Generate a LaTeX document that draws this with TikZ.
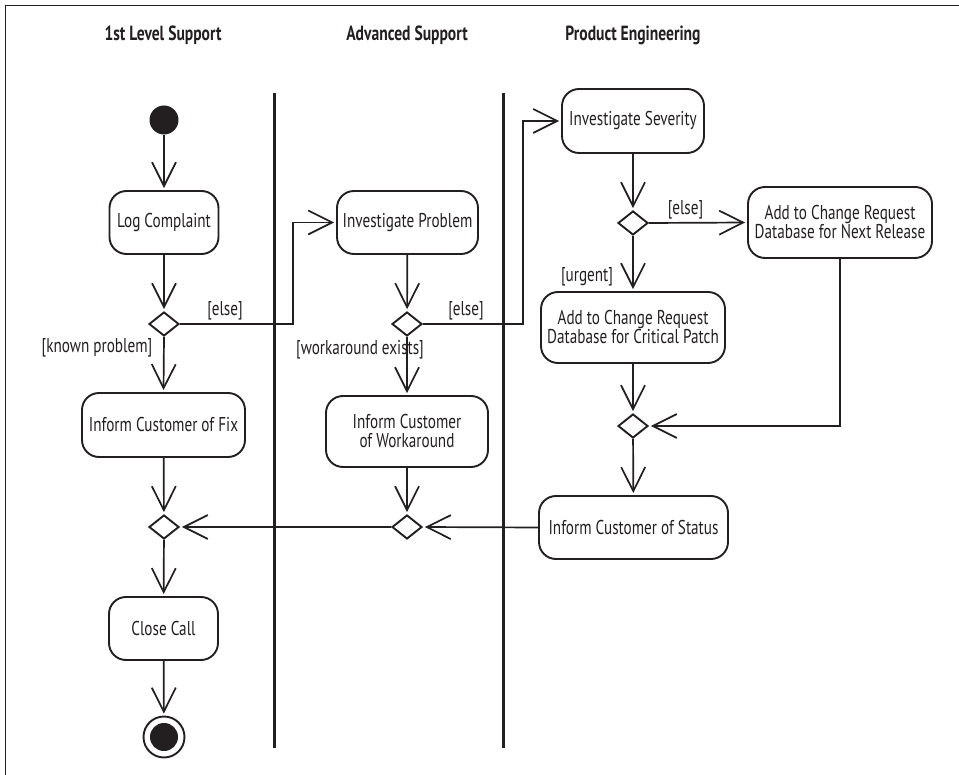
\documentclass[tikz,border=0pt]{standalone}
\usepackage{fontspec}
\setmainfont{PT Sans}[FakeStretch=0.76]
\usetikzlibrary{arrows.meta,shapes.geometric,calc}
\definecolor{ink}{HTML}{231F20}
\begin{document}
\begin{tikzpicture}[x=1pt,y=-1pt,
  box/.style={draw=ink, line width=1.9pt, rounded corners=17pt, align=center, inner sep=0pt,
    font=\fontsize{20}{19}\selectfont, text=ink},
  dec/.style={diamond, draw=ink, line width=1.9pt, minimum width=30pt, minimum height=24pt, inner sep=0pt},
  flow/.style={draw=ink, line width=1.7pt, -{Straight Barb[length=24pt,width=24pt]}, shorten >=2pt},
  lbl/.style={font=\fontsize{20}{19}\selectfont, text=ink, inner sep=0pt},
  lanetitle/.style={font=\bfseries\fontsize{20.5}{20}\selectfont, text=ink, inner sep=0pt},
  lane/.style={draw=ink, line width=3pt}]
\useasboundingbox (0,0) rectangle (959,775);
% frame
\draw[ink, line width=1.5pt] (5.5,775) -- (5.5,5.5) -- (959,5.5);
% titles
\node[lanetitle] (t1) at (163,35) {1st Level Support};
\node[lanetitle] (t2) at (407,35) {Advanced Support};
\node[lanetitle] (t3) at (633,35) {Product Engineering};
% lanes
\coordinate (l1a) at (274,93); \coordinate (l1b) at (274,748);
\coordinate (l2a) at (503,93); \coordinate (l2b) at (503,748);
\draw[lane] (l1a) -- (l1b);
\draw[lane] (l2a) -- (l2b);
% nodes
\node[circle, fill=ink, minimum size=29pt, inner sep=0pt] (start) at (164,120) {};
\node[box, minimum width=109pt, minimum height=63pt] (log) at (164,222.5) {Log Complaint};
\node[dec] (d1) at (164,324) {};
\node[box, minimum width=163pt, minimum height=64pt] (fix) at (163.5,425) {Inform Customer of Fix};
\node[dec] (d6) at (164,527) {};
\node[box, minimum width=109pt, minimum height=63pt] (close) at (163.5,628.5) {Close Call};
\node[circle, draw=ink, line width=1.9pt, minimum size=41pt, inner sep=0pt] (end) at (164,737) {};
\node[circle, fill=ink, minimum size=28pt, inner sep=0pt] (endin) at (164,737) {};

\node[box, minimum width=141pt, minimum height=63pt] (invprob) at (407.5,222.5) {Investigate Problem};
\node[dec] (d2) at (407,324) {};
\node[box, minimum width=162pt, minimum height=71pt] (work) at (407,431.5) {Inform Customer\\of Workaround};
\node[dec] (d5) at (407,527) {};

\node[box, minimum width=142pt, minimum height=64pt] (invsev) at (633,121) {Investigate Severity};
\node[dec] (d3) at (633,223) {};
\node[box, minimum width=184pt, minimum height=71pt] (nextrel) at (840,222.5) {Add to Change Request\\Database for Next Release};
\node[box, minimum width=184pt, minimum height=71pt] (crit) at (633,327.5) {Add to Change Request\\Database for Critical Patch};
\node[dec] (d4) at (633,426) {};
\node[box, minimum width=189pt, minimum height=63pt] (status) at (633.5,527.5) {Inform Customer of Status};

% bend points
\coordinate (b1) at (293,324);
\coordinate (b2) at (523,324);
\coordinate (b3) at (840,426);

% connectors
\draw[flow] (start) -- (log);
\draw[flow] (log) -- (d1);
\draw[flow] (d1.east) -- (b1) |- (invprob.west);
\draw[flow] (d1.south) -- (fix.north);
\draw[flow] (fix) -- (d6);
\draw[flow] (d6) -- (close);
\draw[flow] (close) -- (end);
\draw[flow] (invprob) -- (d2);
\draw[flow] (d2.south) -- (work.north);
\draw[flow] (d2.east) -- (b2) |- (invsev.west);
\draw[flow] (work) -- (d5);
\draw[flow] (d5.west) -- (d6.east);
\draw[flow] (invsev) -- (d3);
\draw[flow] (d3.east) -- (nextrel.west);
\draw[flow] (d3.south) -- (crit.north);
\draw[flow] (crit) -- (d4);
\draw[flow] (nextrel.south) -- (b3) -- (d4.east);
\draw[flow] (d4) -- (status);
\draw[flow] (status.west) -- (d5.east);

% guard labels
\node[lbl] (g1) at (225,311) {[else]};
\node[lbl] (g2) at (97,348) {[known problem]};
\node[lbl] (g3) at (360,350) {[workaround exists]};
\node[lbl] (g4) at (466,311) {[else]};
\node[lbl] (g5) at (685.5,210) {[else]};
\node[lbl] (g6) at (587,277) {[urgent]};
\end{tikzpicture}
\end{document}
